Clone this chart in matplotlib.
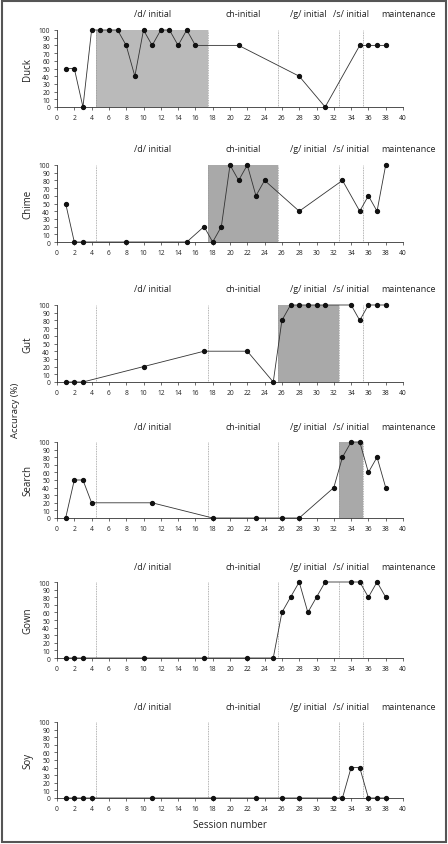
import matplotlib
matplotlib.use("Agg")
import matplotlib.pyplot as plt
from matplotlib.patches import Rectangle

plt.rcParams['font.family'] = ['Open Sans', 'DejaVu Sans']

words = ["Duck", "Chime", "Gut", "Search", "Gown", "Soy"]

duck_x = [1, 2, 3, 4, 5, 6, 7, 8, 9, 10, 11, 12, 13, 14, 15, 16, 21, 28, 31, 35, 36, 37, 38]
duck_y = [50, 50, 0, 100, 100, 100, 100, 80, 40, 100, 80, 100, 100, 80, 100, 80, 80, 40, 0, 80, 80, 80, 80]

chime_x = [1, 2, 3, 8, 15, 17, 18, 19, 20, 21, 22, 23, 24, 28, 33, 35, 36, 37, 38]
chime_y = [50, 0, 0, 0, 0, 20, 0, 20, 100, 80, 100, 60, 80, 40, 80, 40, 60, 40, 100]

gut_x = [1, 2, 3, 10, 17, 22, 25, 26, 27, 28, 29, 30, 31, 34, 35, 36, 37, 38]
gut_y = [0, 0, 0, 20, 40, 40, 0, 80, 100, 100, 100, 100, 100, 100, 80, 100, 100, 100]

search_x = [1, 2, 3, 4, 11, 18, 23, 26, 28, 32, 33, 34, 35, 36, 37, 38]
search_y = [0, 50, 50, 20, 20, 0, 0, 0, 0, 40, 80, 100, 100, 60, 80, 40]

gown_x = [1, 2, 3, 10, 17, 22, 25, 26, 27, 28, 29, 30, 31, 34, 35, 36, 37, 38]
gown_y = [0, 0, 0, 0, 0, 0, 0, 60, 80, 100, 60, 80, 100, 100, 100, 80, 100, 80]

soy_x = [1, 2, 3, 4, 11, 18, 23, 26, 28, 32, 33, 34, 35, 36, 37, 38]
soy_y = [0, 0, 0, 0, 0, 0, 0, 0, 0, 0, 0, 40, 40, 0, 0, 0]

series_x = [duck_x, chime_x, gut_x, search_x, gown_x, soy_x]
series_y = [duck_y, chime_y, gut_y, search_y, gown_y, soy_y]

phase_labels = ["/d/ initial", "ch-initial", "/g/ initial", "/s/ initial", "maintenance"]
phase_label_x = [11.1, 21.5, 29.0, 34.0, 40.6]
phase_bounds = [4.5, 17.5, 25.5, 32.6, 35.4]

# treatment phase shading per word: (start, end) or None
shade_spans = [(4.5, 17.5), (17.5, 25.5), (25.5, 32.6), (32.6, 35.4), None, None]
shade_colors = ["#bababa", "#a9a9a9", "#a9a9a9", "#a9a9a9", None, None]

W, H = 448, 845
fig = plt.figure(figsize=(W / 100, H / 100), dpi=100)

tops = [31, 166, 306, 443, 583, 723]
bots = [108, 243, 383, 519, 659, 799]
left_px, right_px = 57, 403

for i in range(6):
    ax = fig.add_axes([left_px / W, 1 - bots[i] / H, (right_px - left_px) / W, (bots[i] - tops[i]) / H])
    ax.set_xlim(0, 40)
    ax.set_ylim(0, 100)
    for s in ["top", "right"]:
        ax.spines[s].set_visible(False)
    for s in ["left", "bottom"]:
        ax.spines[s].set_linewidth(0.6)
        ax.spines[s].set_color("#333333")
    ax.set_xticks(range(0, 41, 2))
    ax.set_yticks(range(0, 101, 10))
    ax.tick_params(axis="both", labelsize=4.8, length=2.5, width=0.5, color="#333333", pad=2.5, labelcolor="#222222")
    if shade_spans[i] is not None:
        a, b = shade_spans[i]
        ax.axvspan(a, b, ymin=0, ymax=1, color=shade_colors[i], lw=0, zorder=0)
    for xb in phase_bounds:
        ax.axvline(xb, color="#9a9a9a", lw=0.6, ls=(0, (1, 1)), zorder=1)
    ax.plot(series_x[i], series_y[i], color="#333333", lw=0.6, marker="o", ms=2.8,
            mfc="#111111", mec="#111111", clip_on=False, zorder=3)
    for lab, lx in zip(phase_labels, phase_label_x):
        ax.text(lx, 1.15, lab, transform=ax.get_xaxis_transform(), ha="center", va="bottom",
                fontsize=6.5, color="#222222")
    ax.set_ylabel(words[i], fontsize=7, labelpad=4, color="#222222")

fig.text(15 / W, 1 - 410 / H, "Accuracy (%)", rotation=90, ha="center", va="center", fontsize=6.8, color="#222222")
fig.text(230 / W, 1 - 826 / H, "Session number", ha="center", va="center", fontsize=7, color="#222222")

fig.patches.append(Rectangle((2 / W, 2 / H), (W - 4) / W, (H - 4) / H, transform=fig.transFigure,
                             fill=False, edgecolor="#555555", lw=1.5))

fig.savefig("out.png", dpi=100, facecolor="white")
